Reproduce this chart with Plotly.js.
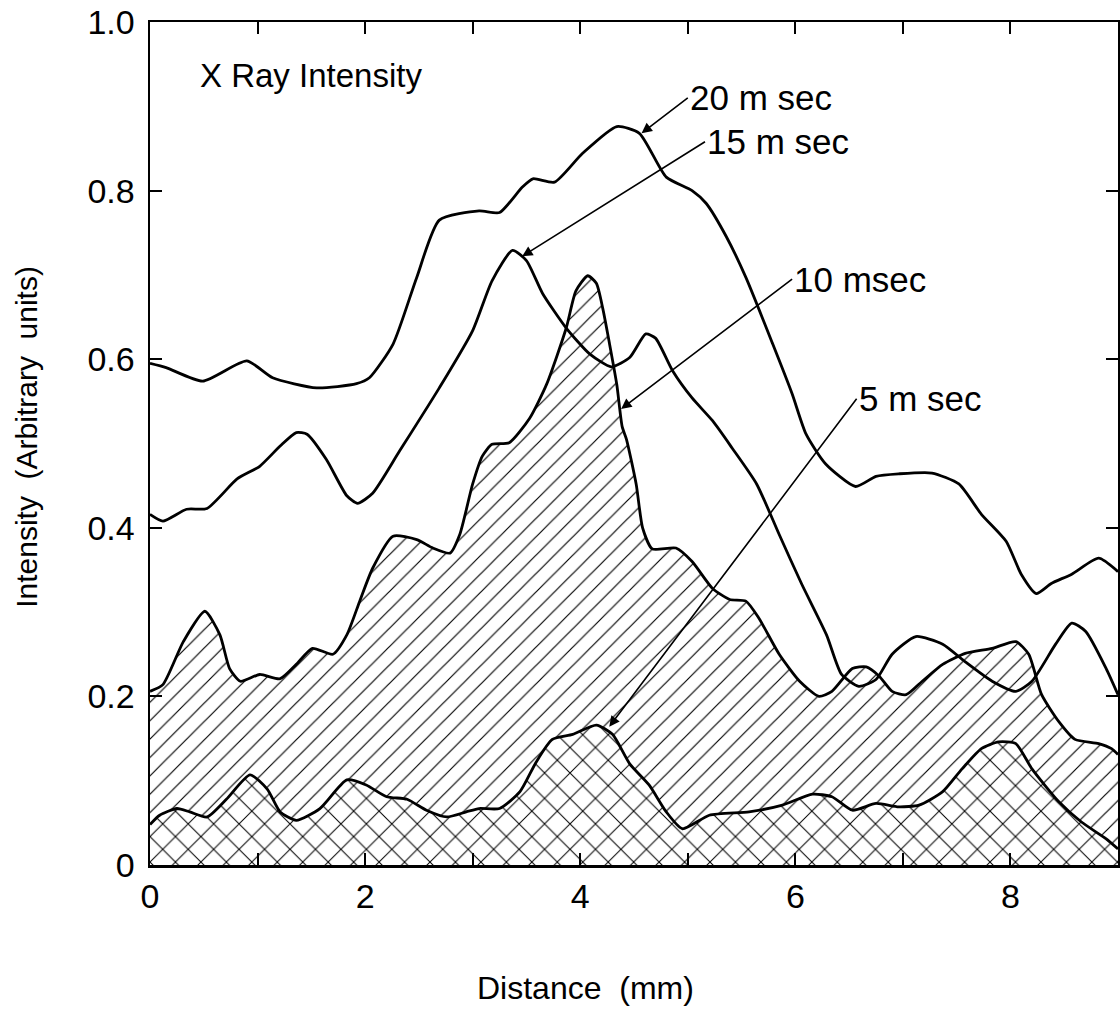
<!DOCTYPE html>
<html>
<head>
<meta charset="utf-8">
<script src="https://cdn.plot.ly/plotly-3.0.1.min.js"></script>
<style>html,body{margin:0;padding:0;background:#fff;}#chart{width:1120px;height:1012px;}</style>
</head>
<body>
<div id="chart"></div>
<script>
// Distance (mm) and intensity (arbitrary units)
const x20 = [0, 0.15, 0.49, 0.9, 1.14, 1.55, 1.92, 2.04, 2.26, 2.48, 2.69, 3.06, 3.25, 3.46, 3.56, 3.76, 4.02, 4.34, 4.55, 4.8, 5.04, 5.17, 5.36, 5.54, 5.79, 5.97, 6.1, 6.28, 6.56, 6.75, 6.96, 7.27, 7.52, 7.73, 7.96, 8.1, 8.24, 8.38, 8.57, 8.82, 9.0];
const y20 = [0.595, 0.59, 0.574, 0.598, 0.578, 0.566, 0.571, 0.578, 0.618, 0.697, 0.765, 0.776, 0.774, 0.804, 0.814, 0.81, 0.844, 0.876, 0.868, 0.816, 0.80, 0.785, 0.745, 0.697, 0.618, 0.559, 0.511, 0.476, 0.449, 0.461, 0.464, 0.465, 0.452, 0.416, 0.384, 0.345, 0.322, 0.334, 0.345, 0.364, 0.348];

const x15 = [0, 0.12, 0.34, 0.53, 0.81, 1.02, 1.21, 1.36, 1.46, 1.64, 1.83, 1.93, 2.07, 2.32, 2.69, 3.0, 3.18, 3.37, 3.5, 3.65, 3.87, 4.09, 4.29, 4.46, 4.61, 4.7, 4.86, 5.04, 5.23, 5.41, 5.64, 5.85, 6.06, 6.29, 6.43, 6.59, 6.75, 6.9, 7.12, 7.37, 7.58, 7.83, 8.05, 8.2, 8.42, 8.57, 8.7, 8.89, 9.0];
const y15 = [0.416, 0.408, 0.422, 0.423, 0.458, 0.473, 0.497, 0.513, 0.511, 0.481, 0.438, 0.429, 0.441, 0.491, 0.566, 0.634, 0.693, 0.729, 0.717, 0.678, 0.637, 0.606, 0.591, 0.602, 0.63, 0.625, 0.586, 0.554, 0.527, 0.495, 0.452, 0.392, 0.333, 0.273, 0.226, 0.212, 0.22, 0.25, 0.271, 0.262, 0.241, 0.218, 0.206, 0.218, 0.262, 0.287, 0.277, 0.233, 0.202];

const x10 = [0, 0.12, 0.31, 0.51, 0.65, 0.74, 0.84, 1.02, 1.21, 1.36, 1.51, 1.7, 1.83, 1.95, 2.07, 2.26, 2.48, 2.63, 2.79, 2.88, 3.0, 3.09, 3.18, 3.34, 3.53, 3.69, 3.87, 3.96, 4.07, 4.15, 4.21, 4.27, 4.34, 4.39, 4.43, 4.52, 4.58, 4.67, 4.89, 5.04, 5.23, 5.39, 5.54, 5.66, 5.85, 6.04, 6.22, 6.34, 6.53, 6.66, 6.78, 6.9, 7.03, 7.18, 7.37, 7.58, 7.83, 8.05, 8.17, 8.29, 8.45, 8.6, 8.82, 8.94, 9.0];
const y10 = [0.206, 0.214, 0.265, 0.301, 0.273, 0.233, 0.218, 0.226, 0.221, 0.238, 0.257, 0.25, 0.273, 0.313, 0.352, 0.39, 0.386, 0.376, 0.37, 0.392, 0.452, 0.485, 0.499, 0.501, 0.53, 0.571, 0.637, 0.681, 0.699, 0.69, 0.66, 0.62, 0.57, 0.52, 0.505, 0.452, 0.40, 0.375, 0.376, 0.36, 0.328, 0.315, 0.313, 0.293, 0.25, 0.218, 0.2, 0.206, 0.233, 0.235, 0.224, 0.206, 0.202, 0.218, 0.238, 0.251, 0.257, 0.265, 0.25, 0.202, 0.17, 0.149, 0.144, 0.138, 0.131];

const x5 = [0, 0.09, 0.25, 0.37, 0.53, 0.71, 0.93, 1.09, 1.21, 1.36, 1.58, 1.83, 2.01, 2.2, 2.39, 2.57, 2.76, 2.94, 3.06, 3.25, 3.44, 3.59, 3.74, 3.93, 4.15, 4.3, 4.46, 4.64, 4.8, 4.95, 5.2, 5.57, 5.88, 6.16, 6.34, 6.53, 6.75, 6.96, 7.15, 7.37, 7.55, 7.73, 7.89, 8.05, 8.2, 8.45, 8.66, 8.89, 9.0];
const y5 = [0.048, 0.059, 0.067, 0.063, 0.057, 0.078, 0.107, 0.09, 0.063, 0.053, 0.067, 0.101, 0.095, 0.081, 0.078, 0.065, 0.057, 0.063, 0.067, 0.067, 0.087, 0.122, 0.149, 0.155, 0.166, 0.155, 0.12, 0.095, 0.063, 0.043, 0.059, 0.063, 0.071, 0.084, 0.081, 0.065, 0.073, 0.069, 0.071, 0.087, 0.114, 0.138, 0.146, 0.144, 0.114, 0.075, 0.051, 0.031, 0.019];

const xTickVals = [0, 1, 2, 3, 4, 5, 6, 7, 8, 9];
const xTickText = ['0', '', '2', '', '4', '', '6', '', '8', ''];
const yTickVals = [0, 0.2, 0.4, 0.6, 0.8, 1.0];
const yTickText = ['0', '0.2', '0.4', '0.6', '0.8', '1.0'];

// Curve labels: [text, label x, label y, arrow head x, arrow head y]
const labelText = ['20 m sec', '15 m sec', '10 msec', '5 m sec'];
const labelX = [5.0, 5.16, 5.97, 6.57];
const labelY = [0.91, 0.858, 0.695, 0.553];
const headX = [4.57, 3.46, 4.38, 4.27];
const headY = [0.868, 0.722, 0.541, 0.164];

const FONT = '"Liberation Sans", Arial, Helvetica, sans-serif';
const lineStyle = {color: '#000', width: 2.8, shape: 'spline', smoothing: 0.6};

const traces = [
  {x: x10, y: y10, name: '10 msec', mode: 'lines', line: lineStyle, fill: 'tozeroy', fillcolor: 'white',
   fillpattern: {shape: '/', size: 13, solidity: 0.09, fgcolor: '#000', bgcolor: 'white'}, hoverinfo: 'skip'},
  {x: x5, y: y5, name: '5 m sec', mode: 'lines', line: lineStyle, fill: 'tozeroy', fillcolor: 'white',
   fillpattern: {shape: 'x', size: 18, solidity: 0.11, fgcolor: '#000', bgcolor: 'white'}, hoverinfo: 'skip'},
  {x: x15, y: y15, name: '15 m sec', mode: 'lines', line: lineStyle, hoverinfo: 'skip'},
  {x: x20, y: y20, name: '20 m sec', mode: 'lines', line: lineStyle, hoverinfo: 'skip'}
];

const annotations = labelText.map((t, i) => ({
  text: t, x: headX[i], y: headY[i], xref: 'x', yref: 'y',
  ax: labelX[i], ay: labelY[i], axref: 'x', ayref: 'y',
  xanchor: 'left', yanchor: 'middle', showarrow: true,
  arrowhead: 2, arrowsize: 1.3, arrowwidth: 1.6, arrowcolor: '#000', standoff: 0,
  font: {family: FONT, size: 35, color: '#000'}
}));
annotations.push({text: 'X Ray Intensity', x: 0.45, y: 0.937, xref: 'x', yref: 'y', xanchor: 'left', yanchor: 'middle',
  showarrow: false, font: {family: FONT, size: 33, color: '#000'}});
annotations.push({text: 'Distance  (mm)', x: 0.45, y: -0.146, xref: 'paper', yref: 'paper', xanchor: 'center', yanchor: 'middle',
  showarrow: false, font: {family: FONT, size: 32, color: '#000'}});
annotations.push({text: 'Intensity  (Arbitrary  units)', x: -0.127, y: 0.508, xref: 'paper', yref: 'paper', xanchor: 'center', yanchor: 'middle',
  textangle: -90, showarrow: false, font: {family: FONT, size: 30, color: '#000'}});

const axisCommon = {
  showgrid: false, zeroline: false, showline: true, linecolor: '#000', linewidth: 2.5, mirror: 'ticks',
  ticks: 'inside', ticklen: 12, tickwidth: 2, tickcolor: '#000',
  tickfont: {family: FONT, size: 34, color: '#000'}
};

const layout = {
  width: 1120, height: 1012,
  margin: {l: 150, r: 2, t: 22, b: 147, pad: 0},
  paper_bgcolor: 'white', plot_bgcolor: 'white',
  showlegend: false,
  xaxis: Object.assign({}, axisCommon, {range: [0, 9], tickmode: 'array', tickvals: xTickVals, ticktext: xTickText, ticklabelstandoff: 0}),
  yaxis: Object.assign({}, axisCommon, {range: [0, 1], tickmode: 'array', tickvals: yTickVals, ticktext: yTickText, ticklabelstandoff: 6}),
  annotations: annotations
};

Plotly.newPlot('chart', traces, layout, {displayModeBar: false, staticPlot: true});
</script>
</body>
</html>
